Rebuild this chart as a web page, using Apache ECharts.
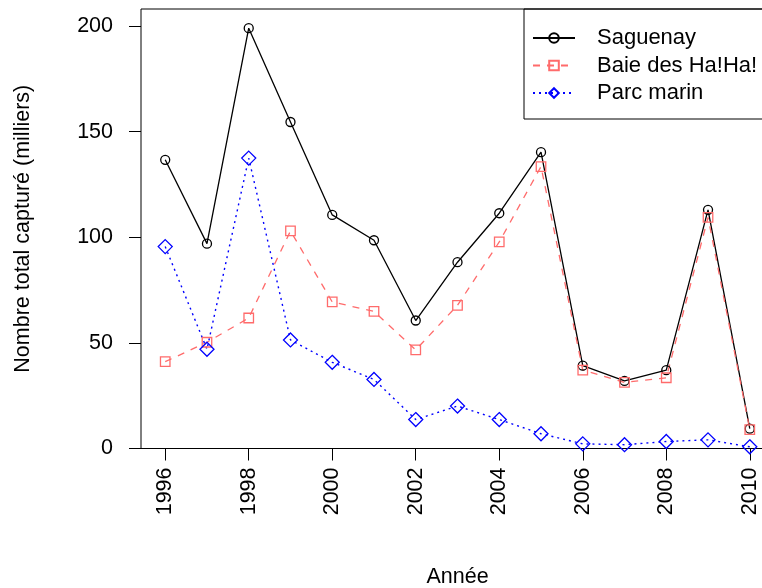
<!DOCTYPE html>
<html>
<head>
<meta charset="utf-8">
<script src="https://cdn.jsdelivr.net/npm/echarts@6/dist/echarts.min.js"></script>
<style>
html,body{margin:0;padding:0;background:#fff;overflow:hidden;}
#chart{width:762px;height:588px;}
</style>
</head>
<body>
<div id="chart"></div>
<script>
const years = [1996,1997,1998,1999,2000,2001,2002,2003,2004,2005,2006,2007,2008,2009,2010];
const saguenay = [136.7,97.0,199.0,154.6,110.6,98.6,60.6,88.2,111.4,140.3,39.2,32.0,37.1,113.0,9.4];
const baie = [41.1,50.3,61.8,103.0,69.4,64.9,46.7,67.8,97.8,133.5,37.1,31.3,33.5,109.4,8.9];
const parc = [95.6,47.0,137.5,51.4,40.8,32.7,13.7,20.1,13.7,7.0,2.2,1.8,3.3,4.1,0.8];
const xTicks = [1996,1998,2000,2002,2004,2006,2008,2010];
const yTicks = [0,50,100,150,200];
const seriesNames = ['Saguenay','Baie des Ha!Ha!','Parc marin'];
const xTitle = 'Année';
const yTitle = 'Nombre total capturé (milliers)';

const FONT = '"Liberation Sans", Arial, Helvetica, sans-serif';
const pair = arr => years.map((y,i)=>[y, arr[i]]);

const chart = echarts.init(document.getElementById('chart'), null, {renderer:'canvas'});
chart.setOption({
  animation:false,
  backgroundColor:'#fff',
  grid:{left:141, top:9, width:633, height:439.5, show:true, borderColor:'#000', borderWidth:1,
        containLabel:false, outerBoundsMode:'none'},
  legend:{
    orient:'vertical', left:524, top:9,
    padding:[18,40,15,8],
    borderColor:'#000', borderWidth:1, borderRadius:0,
    itemWidth:42, itemHeight:12, itemGap:5.5,
    selectedMode:false,
    textStyle:{fontSize:22, color:'#000', fontFamily:FONT, lineHeight:22, padding:[0,0,0,17]},
    data:seriesNames
  },
  xAxis:{
    type:'value', min:1995.42, max:2010.58,
    axisLine:{show:false},
    splitLine:{show:false},
    axisTick:{show:true, inside:false, length:12, lineStyle:{color:'#000', width:1}, customValues:xTicks},
    axisLabel:{rotate:90, margin:19, fontSize:21.5, color:'#000', fontFamily:FONT, customValues:xTicks,
               formatter: v => String(Math.round(v))},
    name:xTitle, nameLocation:'middle', nameGap:118,
    nameTextStyle:{fontSize:21.5, color:'#000', fontFamily:FONT}
  },
  yAxis:{
    type:'value', min:0, max:208.1,
    axisLine:{show:false},
    splitLine:{show:false},
    axisTick:{show:true, inside:false, length:12, lineStyle:{color:'#000', width:1}, customValues:yTicks},
    axisLabel:{margin:28, fontSize:21.5, color:'#000', fontFamily:FONT, customValues:yTicks,
               formatter: v => String(Math.round(v))},
    name:yTitle, nameLocation:'middle', nameGap:107,
    nameTextStyle:{fontSize:21.5, color:'#000', fontFamily:FONT}
  },
  series:[
    {name:seriesNames[0], type:'line', data:pair(saguenay),
     symbol:'circle', symbolSize:9, clip:false,
     lineStyle:{color:'#000', width:1.3, type:'solid'},
     itemStyle:{color:'rgba(0,0,0,0)', borderColor:'#000', borderWidth:1.3}},
    {name:seriesNames[1], type:'line', data:pair(baie),
     symbol:'rect', symbolSize:9.5, clip:false,
     lineStyle:{color:'#ff6b6b', width:1.3, type:[7,7]},
     itemStyle:{color:'rgba(0,0,0,0)', borderColor:'#ff6b6b', borderWidth:1.3}},
    {name:seriesNames[2], type:'line', data:pair(parc),
     symbol:'diamond', symbolSize:14, clip:false,
     lineStyle:{color:'#0000ff', width:1.4, type:[2,4]},
     itemStyle:{color:'rgba(0,0,0,0)', borderColor:'#0000ff', borderWidth:1.3}}
  ]
});
</script>
</body>
</html>
